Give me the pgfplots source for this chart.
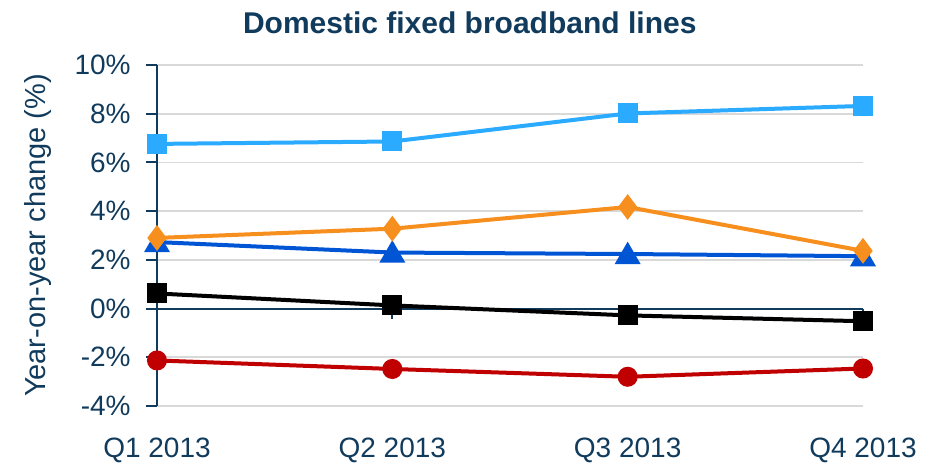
\documentclass[border=0pt]{standalone}
\usepackage{fontspec}
\setmainfont{Liberation Sans}
\usepackage{pgfplots}
\pgfplotsset{compat=1.18}
\definecolor{navy}{HTML}{113B5C}
\definecolor{gridgray}{HTML}{D9D9D9}
\definecolor{skyblue}{HTML}{2AABFF}
\definecolor{orange}{HTML}{F78F1E}
\definecolor{royal}{HTML}{0055D5}
\definecolor{darkred}{HTML}{C00000}

\begin{document}
\begin{tikzpicture}
\begin{axis}[
  name=ax,
  scale only axis, width=353pt, height=170.5pt,
  xmin=0, xmax=3, ymin=-4, ymax=10,
  xtick={0,1,2,3}, xticklabels={Q1 2013,Q2 2013,Q3 2013,Q4 2013},
  ytick={-4,-2,0,2,4,6,8,10},
  yticklabel={\pgfmathprintnumber{\tick}\%},
  /pgf/number format/assume math mode=true,
  ticklabel style={font=\fontsize{14pt}{16pt}\selectfont, color=navy},
  xticklabel style={anchor=center, yshift=-16.5pt},
  yticklabel style={anchor=east, inner sep=0pt, xshift=-7.5pt},
  x axis line style={draw=none},
  y axis line style={draw=navy, line width=1pt},
  axis x line*=bottom, axis y line*=left,
  x tick style={draw=none},
  y tick style={draw=navy, line width=1pt},
  tick align=outside, major tick length=5.5pt,
  ymajorgrids, grid style={color=gridgray, line width=0.8pt},
  ylabel={Year-on-year change (\%)},
  ylabel style={font=\fontsize{14.5pt}{16pt}\selectfont, color=navy,
    at={(rel axis cs:0,0.5)}, anchor=center, yshift=59.5pt},
  every axis plot/.append style={line width=2pt},
  clip=false,
]
\draw[navy, line width=1pt] (axis cs:0,0) -- (axis cs:3,0);
\draw[navy, line width=1pt] (axis cs:1,0) -- ([yshift=-5pt]axis cs:1,0);
\draw[navy, line width=1pt] (axis cs:2,0) -- ([yshift=-5pt]axis cs:2,0);
\draw[navy, line width=1pt] (axis cs:3,0) -- ([yshift=-5pt]axis cs:3,0);

\addplot[color=royal, mark=triangle*, mark size=5.5pt, mark options={yshift=-1.3pt}]
  coordinates {(0,2.73) (1,2.30) (2,2.24) (3,2.15)};
\addplot[color=black, mark=square*, mark size=4pt]
  coordinates {(0,0.62) (1,0.13) (2,-0.28) (3,-0.52)};
\addplot[color=darkred, mark=*, mark size=4pt]
  coordinates {(0,-2.13) (1,-2.48) (2,-2.80) (3,-2.46)};
\addplot[color=orange, mark=diamond*, mark size=4.8pt]
  coordinates {(0,2.90) (1,3.28) (2,4.17) (3,2.37)};
\addplot[color=skyblue, mark=square*, mark size=4pt]
  coordinates {(0,6.76) (1,6.86) (2,8.01) (3,8.32)};

\node[font=\fontsize{15pt}{18pt}\selectfont\bfseries, color=navy]
  at ([yshift=21pt]rel axis cs:0.443,1) {Domestic fixed broadband lines};
\end{axis}
\path ([shift={(-78.5pt,-29pt)}]ax.south west) rectangle ([shift={(388.5pt,203pt)}]ax.south west);
\end{tikzpicture}
\end{document}
